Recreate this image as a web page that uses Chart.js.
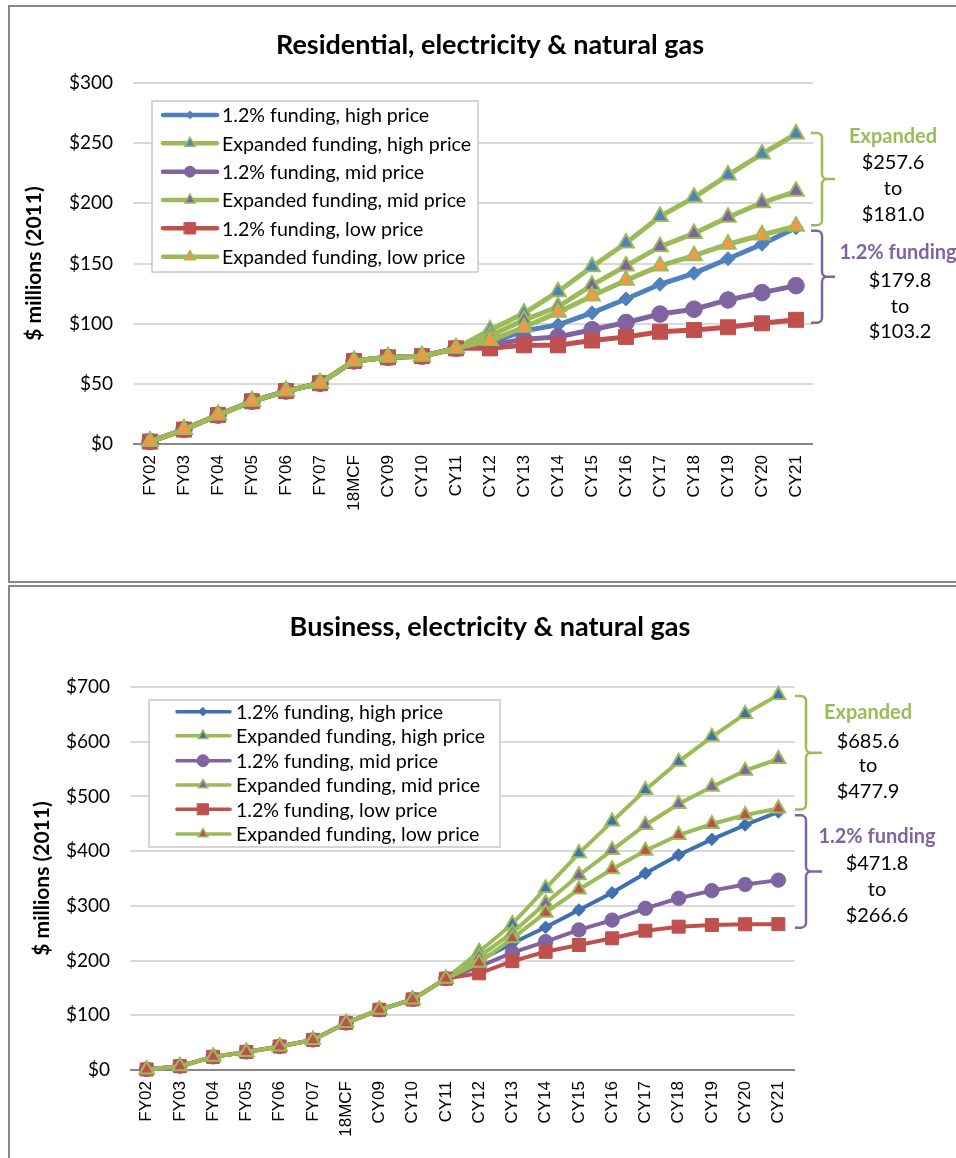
<!DOCTYPE html>
<html>
<head>
<meta charset="utf-8">
<script src="https://cdn.jsdelivr.net/npm/chart.js@4.4.1/dist/chart.umd.min.js"></script>
<style>
  html, body { margin: 0; padding: 0; background: #fff; width: 956px; height: 1158px; overflow: hidden; position: relative; }
  .frame { position: absolute; left: 8px; width: 1000px; border: 2px solid #878787; box-sizing: border-box; }
  #f1 { top: 5px; height: 578px; }
  #f2 { top: 585px; height: 620px; }
  canvas { position: absolute; left: 0; }
  #c1 { top: 0; }
  #c2 { top: 583px; }
</style>
</head>
<body>
<div class="frame" id="f1"></div>
<div class="frame" id="f2"></div>
<canvas id="c1" width="956" height="583"></canvas>
<canvas id="c2" width="956" height="575"></canvas>
<script>
// ---- data ----
const categories = ['FY02','FY03','FY04','FY05','FY06','FY07','18MCF','CY09','CY10','CY11',
                    'CY12','CY13','CY14','CY15','CY16','CY17','CY18','CY19','CY20','CY21'];

const seriesNames = ['1.2% funding, high price', 'Expanded funding, high price',
                     '1.2% funding, mid price',  'Expanded funding, mid price',
                     '1.2% funding, low price',  'Expanded funding, low price'];

// Residential, $ millions (2011)
const resHigh12 = [2, 12, 24, 35.5, 44, 50.5, 69, 72, 73, 79.5, 84, 94, 99, 109, 120.5, 132.7, 141.8, 154, 166, 179.8];
const resHighExp = [2, 12, 24, 35.5, 44, 50.5, 69, 72, 73, 79.5, 94.7, 108.6, 126.6, 147.3, 167, 189, 205, 223.5, 241, 257.6];
const resMid12  = [2, 12, 24, 35.5, 44, 50.5, 69, 72, 73, 79.5, 82, 87, 89, 95, 101, 108, 112, 119.7, 125.8, 131.6];
const resMidExp = [2, 12, 24, 35.5, 44, 50.5, 69, 72, 73, 79.5, 90, 103, 114, 132, 148, 164, 175, 188.4, 200.5, 210];
const resLow12  = [2, 12, 24, 35.5, 44, 50.5, 69, 72, 73, 79.5, 79.5, 82, 82, 86, 89, 93.3, 94.7, 97, 100.3, 103.2];
const resLowExp = [2, 12, 24, 35.5, 44, 50.5, 69, 72, 73, 79.5, 86, 97, 109.4, 123, 136, 148, 156.5, 166, 173.7, 181.0];
const resTickValues = [0, 50, 100, 150, 200, 250, 300];

// Business, $ millions (2011)
const busHigh12 = [1, 7, 24, 33, 43, 55, 86, 110, 129, 167, 200, 231.6, 260.8, 292.4, 324, 359.5, 393, 421.6, 447.8, 471.8];
const busHighExp = [1, 7, 24, 33, 43, 55, 86, 110, 129, 167, 216, 267, 332, 396, 454, 511.8, 563.6, 609, 650.7, 685.6];
const busMid12  = [1, 7, 24, 33, 43, 55, 86, 110, 129, 167, 189, 214.5, 234.6, 256, 274, 295.5, 313.8, 327.8, 339, 347];
const busMidExp = [1, 7, 24, 33, 43, 55, 86, 110, 129, 167, 207, 251, 304.6, 356, 402, 447.8, 486, 517.8, 547, 568.4];
const busLow12  = [1, 7, 24, 33, 43, 55, 86, 110, 129, 167, 176.7, 199, 216, 228.5, 240.7, 254.6, 262, 265, 266.3, 266.6];
const busLowExp = [1, 7, 24, 33, 43, 55, 86, 110, 129, 167, 196, 240.7, 287.6, 330, 366.8, 400.8, 429.5, 449.6, 466, 477.9];
const busTickValues = [0, 100, 200, 300, 400, 500, 600, 700];

// ---- styling ----
const GREEN = '#9BBB59', PURPLE = '#8064A2', RED = '#C0504D', ORANGE = '#F79646';
const TXT = 'Lato, "Open Sans", sans-serif';

function markerPath(ctx, shape, x, y, r) {
  ctx.beginPath();
  if (shape === 'triangle') {
    for (let k = 0; k < 3; k++) {
      const a = k * 2 * Math.PI / 3;
      const px = x + Math.sin(a) * r, py = y - Math.cos(a) * r;
      if (k) ctx.lineTo(px, py); else ctx.moveTo(px, py);
    }
    ctx.closePath();
  } else if (shape === 'circle') {
    ctx.arc(x, y, r, 0, Math.PI * 2);
  } else if (shape === 'rect') {
    const s = r * Math.SQRT1_2;
    ctx.rect(x - s, y - s, 2 * s, 2 * s);
  } else if (shape === 'rectRot') {
    ctx.moveTo(x, y - r); ctx.lineTo(x + r, y); ctx.lineTo(x, y + r); ctx.lineTo(x - r, y);
    ctx.closePath();
  }
}

// legend, brackets, chart title
const panelDecor = {
  id: 'panelDecor',
  afterDraw(chart, args, o) {
    const ctx = chart.ctx;
    const y = chart.scales.y;
    ctx.save();
    // title
    ctx.fillStyle = '#000';
    ctx.font = 'bold 27px ' + TXT;
    ctx.textAlign = 'center';
    ctx.textBaseline = 'middle';
    ctx.fillText(o.title, o.titleX, o.titleY);

    // legend box
    const L = o.legend;
    ctx.fillStyle = '#fff';
    ctx.fillRect(L.x0, L.y0, L.x1 - L.x0, L.y1 - L.y0);
    ctx.strokeStyle = '#C8C8C8';
    ctx.lineWidth = 1.5;
    ctx.strokeRect(L.x0, L.y0, L.x1 - L.x0, L.y1 - L.y0);
    chart.data.datasets.forEach((ds, i) => {
      const ry = L.rowY[i];
      ctx.strokeStyle = ds.borderColor;
      ctx.lineWidth = L.lineW;
      ctx.lineCap = 'round';
      ctx.beginPath(); ctx.moveTo(L.lx0, ry); ctx.lineTo(L.lx1, ry); ctx.stroke();
      markerPath(ctx, ds.pointStyle, L.mx, ry, L.r[i]);
      ctx.fillStyle = ds.pointBackgroundColor; ctx.fill();
      ctx.lineWidth = ds.pointStyle === 'triangle' ? 1.5 : 1;
      ctx.strokeStyle = ds.pointBorderColor; ctx.stroke();
      ctx.fillStyle = '#000';
      ctx.font = L.font + 'px ' + TXT;
      ctx.textAlign = 'left';
      ctx.textBaseline = 'middle';
      ctx.fillText(ds.label, L.tx, ry + 1);
    });

    // range brackets with captions
    o.brackets.forEach(b => {
      const top = y.getPixelForValue(b.from) + b.shift;
      const bot = y.getPixelForValue(b.to) + b.shift;
      const mid = (top + bot) / 2;
      const rr = 5;
      ctx.strokeStyle = b.color;
      ctx.lineWidth = 2.5;
      ctx.lineCap = 'butt';
      ctx.lineJoin = 'round';
      ctx.beginPath();
      ctx.moveTo(b.x0, top);
      ctx.arcTo(b.xv, top, b.xv, top + rr, rr);
      ctx.lineTo(b.xv, mid - rr);
      ctx.arcTo(b.xv, mid, b.xv + rr, mid, rr);
      ctx.lineTo(b.tip, mid);
      ctx.moveTo(b.xv + rr, mid);
      ctx.arcTo(b.xv, mid, b.xv, mid + rr, rr);
      ctx.lineTo(b.xv, bot - rr);
      ctx.arcTo(b.xv, bot, b.xv - rr, bot, rr);
      ctx.lineTo(b.x0, bot);
      ctx.stroke();
      b.lines.forEach(t => {
        ctx.fillStyle = t.color || '#000';
        ctx.font = (t.bold ? 'bold ' : '') + '20px ' + TXT;
        ctx.textAlign = 'center';
        ctx.textBaseline = 'middle';
        ctx.fillText(t.text, t.x, t.y);
      });
    });
    ctx.restore();
  }
};

function makePanel(canvasId, p) {
  const values = p.values;
  const styles = [
    { line: p.blue, shape: 'rectRot',  fill: p.blue,   edge: p.blue,   r: p.r.diamond },
    { line: GREEN,  shape: 'triangle', fill: p.blue,   edge: GREEN,    r: p.r.tri },
    { line: PURPLE, shape: 'circle',   fill: PURPLE,   edge: PURPLE,   r: p.r.circle },
    { line: GREEN,  shape: 'triangle', fill: PURPLE,   edge: GREEN,    r: p.r.tri },
    { line: RED,    shape: 'rect',     fill: RED,      edge: RED,      r: p.r.square },
    { line: GREEN,  shape: 'triangle', fill: p.lowFill, edge: GREEN,   r: p.r.tri }
  ];
  const datasets = values.map((data, i) => ({
    label: seriesNames[i],
    data,
    borderColor: styles[i].line,
    backgroundColor: styles[i].fill,
    borderWidth: p.lineW,
    pointStyle: styles[i].shape,
    pointRadius: styles[i].r,
    pointBackgroundColor: styles[i].fill,
    pointBorderColor: styles[i].edge,
    pointBorderWidth: styles[i].shape === 'triangle' ? 2 : 1,
    tension: 0,
    clip: false,
    order: values.length - i
  }));

  return new Chart(document.getElementById(canvasId), {
    type: 'line',
    data: { labels: categories, datasets },
    options: {
      responsive: false,
      animation: false,
      layout: { padding: { top: p.padTop, right: p.padRight, left: 0, bottom: 0 } },
      plugins: {
        legend: { display: false },
        tooltip: { enabled: false },
        panelDecor: p.decor
      },
      scales: {
        x: {
          offset: true,
          grid: { display: false, drawTicks: false },
          border: { display: false },
          ticks: {
            autoSkip: false, minRotation: 90, maxRotation: 90, padding: 11,
            color: '#000', font: { family: '"Liberation Sans", Arial, sans-serif', size: 17 }
          },
          afterFit(s) { s.height = p.xAxisH; }
        },
        y: {
          min: 0, max: p.tickValues[p.tickValues.length - 1],
          afterBuildTicks(s) { s.ticks = p.tickValues.map(v => ({ value: v })); },
          grid: {
            drawTicks: false, lineWidth: 2,
            color: c => (c.tick && c.tick.value === 0) ? '#868686' : '#D9D9D9'
          },
          border: { display: false },
          ticks: {
            padding: 20, color: '#000',
            font: { family: TXT, size: 19 },
            callback: v => '$' + v
          },
          title: {
            display: true, text: '$ millions (2011)', color: '#000',
            font: { family: TXT, size: 21, weight: 'bold' },
            padding: { top: p.yTitlePad, bottom: 0 }
          },
          afterFit(s) { s.width = p.yAxisW; }
        }
      }
    },
    plugins: [panelDecor]
  });
}

makePanel('c1', {
  values: [resHigh12, resHighExp, resMid12, resMidExp, resLow12, resLowExp],
  tickValues: resTickValues,
  blue: '#4F81BD', lowFill: ORANGE,
  lineW: 5,
  r: { diamond: 7, tri: 9, circle: 8.3, square: 10.6 },
  padTop: 83, padRight: 143, xAxisH: 139, yAxisW: 133, yTitlePad: 22,
  decor: {
    title: 'Residential, electricity & natural gas', titleX: 490, titleY: 45,
    legend: {
      x0: 152, y0: 101, x1: 478, y1: 272,
      rowY: [115, 143.3, 171.7, 200, 228.3, 256.7],
      lx0: 163, lx1: 217, mx: 190, tx: 222, font: 19.6, lineW: 4.5,
      r: [3.8, 6, 5.5, 6, 8, 6]
    },
    brackets: [
      { from: 257.6, to: 181.0, shift: -1, x0: 811, xv: 822, tip: 835, color: GREEN,
        lines: [
          { text: 'Expanded', x: 893, y: 137, bold: true, color: GREEN },
          { text: '$257.6', x: 893, y: 163 },
          { text: 'to', x: 893, y: 189 },
          { text: '$181.0', x: 893, y: 215 }
        ] },
      { from: 179.8, to: 103.2, shift: 3, x0: 811, xv: 822, tip: 835, color: PURPLE,
        lines: [
          { text: '1.2% funding', x: 898, y: 253, bold: true, color: PURPLE },
          { text: '$179.8', x: 900, y: 281 },
          { text: 'to', x: 900, y: 307 },
          { text: '$103.2', x: 900, y: 332 }
        ] }
    ]
  }
});

makePanel('c2', {
  values: [busHigh12, busHighExp, busMid12, busMidExp, busLow12, busLowExp],
  tickValues: busTickValues,
  blue: '#4170B0', lowFill: RED,
  lineW: 4,
  r: { diamond: 6.3, tri: 8, circle: 7.2, square: 9.2 },
  padTop: 104, padRight: 161, xAxisH: 88, yAxisW: 130, yTitlePad: 30,
  decor: {
    title: 'Business, electricity & natural gas', titleX: 490, titleY: 44,
    legend: {
      x0: 149, y0: 117, x1: 500, y1: 264,
      rowY: [128.7, 152.7, 177.7, 202, 226.3, 251],
      lx0: 177, lx1: 230, mx: 203, tx: 236, font: 19.6, lineW: 3.5,
      r: [4.2, 5.6, 6, 5.6, 7.8, 5.6]
    },
    brackets: [
      { from: 685.6, to: 477.9, shift: 1, x0: 795, xv: 806, tip: 822, color: GREEN,
        lines: [
          { text: 'Expanded', x: 868, y: 130, bold: true, color: GREEN },
          { text: '$685.6', x: 868, y: 158.7 },
          { text: 'to', x: 868, y: 183 },
          { text: '$477.9', x: 868, y: 208.7 }
        ] },
      { from: 471.8, to: 266.6, shift: 3.5, x0: 795, xv: 806, tip: 822, color: PURPLE,
        lines: [
          { text: '1.2% funding', x: 877, y: 253.7, bold: true, color: PURPLE },
          { text: '$471.8', x: 877, y: 280.3 },
          { text: 'to', x: 877, y: 306.3 },
          { text: '$266.6', x: 877, y: 333 }
        ] }
    ]
  }
});
</script>
</body>
</html>
